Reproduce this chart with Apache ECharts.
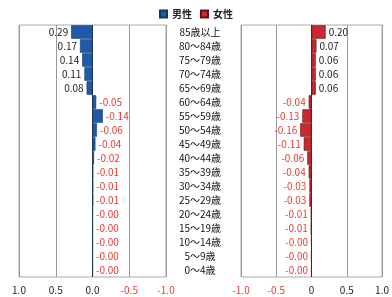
<!DOCTYPE html>
<html lang="ja">
<head>
<meta charset="UTF-8">
<title>男女別 年齢階級</title>
<script src="https://cdn.jsdelivr.net/npm/echarts@6/dist/echarts.min.js"></script>
<style>
  html, body {margin: 0; padding: 0; background: #fff;}
  #main {width: 392px; height: 297px;}
</style>
</head>
<body>
<div id="main"></div>
<script>
// 年齢階級（上から順）
var ages = ['85歳以上', '80～84歳', '75～79歳', '70～74歳', '65～69歳', '60～64歳',
  '55～59歳', '50～54歳', '45～49歳', '40～44歳', '35～39歳', '30～34歳',
  '25～29歳', '20～24歳', '15～19歳', '10～14歳', '5～9歳', '0～4歳'];
var male = [0.29, 0.17, 0.14, 0.11, 0.08, -0.05, -0.14, -0.06, -0.04, -0.02,
  -0.01, -0.01, -0.01, -0.003, -0.003, -0.003, -0.003, -0.003];
var female = [0.20, 0.07, 0.06, 0.06, 0.06, -0.04, -0.13, -0.16, -0.11, -0.06,
  -0.04, -0.03, -0.03, -0.01, -0.01, -0.003, -0.003, -0.003];
var leftTicks = ['1.0', '0.5', '0.0', '-0.5', '-1.0'];
var rightTicks = ['-1.0', '-0.5', '0', '0.5', '1.0'];

var RED = '#e8392f';
var FONT = '"Noto Sans CJK JP", sans-serif';

function tickLabel(list, inverse) {
  return {
    fontSize: 10, fontFamily: FONT, margin: 8,
    showMinLabel: true, showMaxLabel: true, hideOverlap: false,
    formatter: function (v) {
      var i = Math.round((v + 1) / 0.5);
      return list[inverse ? 4 - i : i];
    },
    color: function (v) { return v < 0 ? RED : '#222'; }
  };
}

// 値ごとにラベル位置を決める（正負で反対側）
function items(arr, posSide, negSide) {
  return arr.map(function (v) {
    return {
      value: v,
      label: {
        position: v >= 0 ? posSide : negSide,
        color: v >= 0 ? '#222' : RED
      }
    };
  });
}

var gridLine = {show: true, lineStyle: {color: ['#999', '#999', '#333', '#999', '#999'], width: 1}};

var myChart = echarts.init(document.getElementById('main'));
var option = {
  animation: false,
  legend: {
    top: 4, left: 'center', icon: 'rect', itemWidth: 7, itemHeight: 7, itemGap: 8,
    textStyle: {fontSize: 10, fontWeight: 'bold', fontFamily: FONT, color: '#222'},
    data: ['男性', '女性']
  },
  grid: [
    {left: 19, right: 226, top: 25, bottom: 20, show: true, borderColor: '#aaa', borderWidth: 1},
    {left: 241, right: 2, top: 25, bottom: 20, show: true, borderColor: '#aaa', borderWidth: 1}
  ],
  xAxis: [
    {gridIndex: 0, type: 'value', min: -1, max: 1, interval: 0.5, inverse: true,
      axisLine: {show: false}, axisTick: {show: false},
      splitLine: gridLine, axisLabel: tickLabel(leftTicks, true)},
    {gridIndex: 1, type: 'value', min: -1, max: 1, interval: 0.5,
      axisLine: {show: false}, axisTick: {show: false},
      splitLine: gridLine, axisLabel: tickLabel(rightTicks, false)}
  ],
  yAxis: [
    {gridIndex: 0, type: 'category', data: ages, inverse: true,
      axisLine: {show: false}, axisTick: {show: false}, axisLabel: {show: false}},
    {gridIndex: 1, type: 'category', data: ages, inverse: true,
      axisLine: {show: false}, axisTick: {show: false},
      axisLabel: {margin: 41, align: 'center', fontSize: 10, fontFamily: FONT, color: '#111'}}
  ],
  series: [
    {
      name: '男性', type: 'bar', xAxisIndex: 0, yAxisIndex: 0,
      barCategoryGap: '4%',
      itemStyle: {color: '#1f5aa8', borderColor: '#0c356b', borderWidth: 0.6},
      label: {show: true, distance: 3, fontSize: 10, fontFamily: FONT,
        formatter: function (p) { return p.value.toFixed(2); }},
      data: items(male, 'left', 'right')
    },
    {
      name: '女性', type: 'bar', xAxisIndex: 1, yAxisIndex: 1,
      barCategoryGap: '4%',
      itemStyle: {color: '#c8282e', borderColor: '#6b1014', borderWidth: 0.6},
      label: {show: true, distance: 3, fontSize: 10, fontFamily: FONT,
        formatter: function (p) { return p.value.toFixed(2); }},
      data: items(female, 'right', 'left')
    }
  ]
};
myChart.setOption(option);
</script>
</body>
</html>
